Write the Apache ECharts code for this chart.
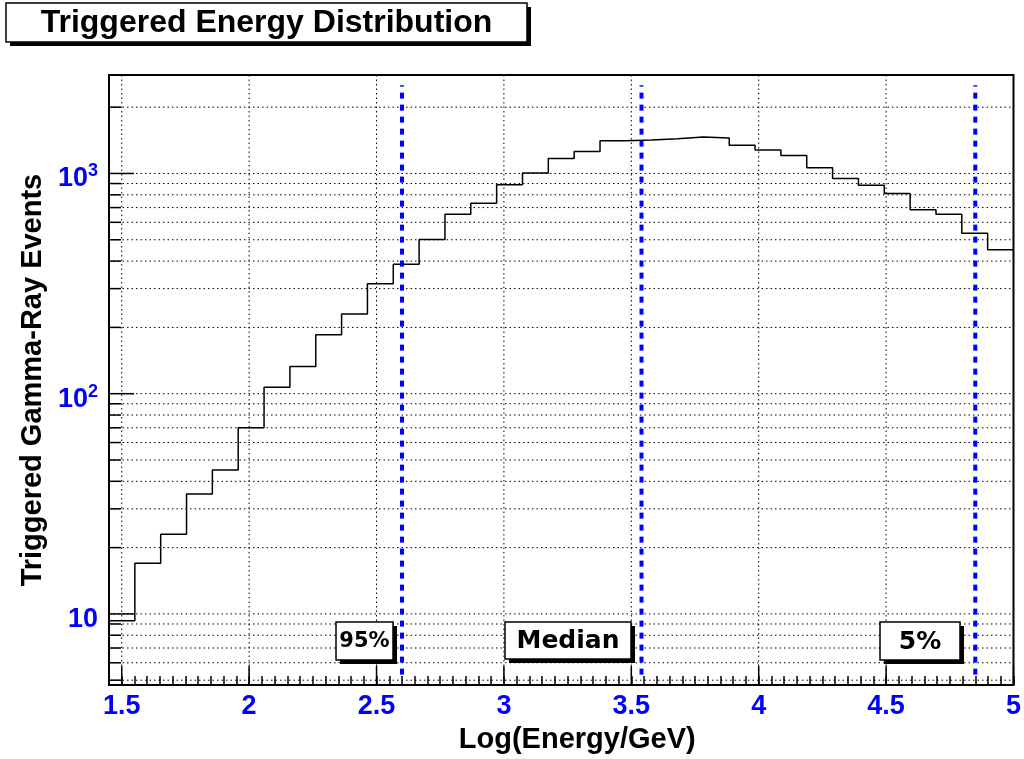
<!DOCTYPE html>
<html>
<head>
<meta charset="utf-8">
<script src="https://cdn.jsdelivr.net/npm/echarts@6/dist/echarts.min.js"></script>
<style>
  html, body { margin: 0; padding: 0; background: #fff; }
  #chart { width: 1024px; height: 759px; }
</style>
</head>
<body>
<div id="chart"></div>
<script>
// ---- data ----
const binLow = 1.45;          // left edge of first bin, log10(E/GeV)
const binHigh = 5.0;          // right edge of last bin
const counts = [9.3, 17, 23, 35, 45, 70, 107, 133, 185, 230, 316, 387, 502, 653, 732, 888, 1004,
  1170, 1257, 1407, 1418, 1437, 1466, 1450, 1343, 1277, 1208, 1062, 948, 883, 811, 684, 653, 535, 450];
const markerNames = ['95%', 'Median', '5%'];
const markerX = [2.60, 3.54, 4.85];
const markerYRange = [5.3, 2516];
const xMajorTicks = [1.5, 2, 2.5, 3, 3.5, 4, 4.5, 5];
const yTickValues = [5, 6, 7, 8, 9, 10, 20, 30, 40, 50, 60, 70, 80, 90, 100, 200, 300, 400, 500,
  600, 700, 800, 900, 1000, 2000];
const yMajorTicks = [10, 100, 1000];
const xRange = [1.45, 5.0];
const yRange = [4.75, 2800];
const titleText = 'Triggered Energy Distribution';
const xTitle = 'Log(Energy/GeV)';
const yTitle = 'Triggered Gamma-Ray Events';

// ---- build histogram step data ----
const binW = (binHigh - binLow) / counts.length;
const histData = counts.map((c, i) => [binLow + i * binW, c]);
histData.push([binHigh, counts[counts.length - 1]]);

const BLUE = '#0000ff';

function yLabel(v) {
  const e = Math.log10(v);
  const r = Math.round(e);
  if (Math.abs(e - r) > 1e-6 || r < 1) return '';
  if (r === 1) return '{b|10}';
  return '{b|10}{s|' + r + '}';
}

const markerSeries = markerX.map((x, i) => ({
  name: markerNames[i] + ' line',
  type: 'line',
  data: [[x, markerYRange[0]], [x, markerYRange[1]]],
  symbol: 'none',
  silent: true,
  z: 4,
  lineStyle: { color: BLUE, width: 4, type: [6, 6], cap: 'butt' }
}));

function boxGraphic(x, y, w, h, text, fontSize, family) {
  return {
    type: 'group',
    children: [
      { type: 'rect', shape: { x: x + 4, y: y + 4, width: w, height: h }, style: { fill: '#000' }, z: 50 },
      { type: 'rect', shape: { x: x, y: y, width: w, height: h }, style: { fill: '#fff', stroke: '#000', lineWidth: 1.5 }, z: 51 },
      { type: 'text', z: 52, style: { text: text, x: x + w / 2, y: y + h / 2 + 1, align: 'center', verticalAlign: 'middle',
          fontSize: fontSize, fontWeight: 'bold', fontFamily: family, fill: '#000' } }
    ]
  };
}

const chart = echarts.init(document.getElementById('chart'), null, { renderer: 'canvas' });
chart.setOption({
  animation: false,
  backgroundColor: '#fff',
  grid: { left: 109, top: 75, right: 8, bottom: 69, show: true, borderColor: '#000', borderWidth: 2, backgroundColor: 'transparent' },
  xAxis: {
    type: 'value', min: xRange[0], max: xRange[1], interval: 0.05,
    name: xTitle, nameLocation: 'middle', nameGap: 34,
    nameTextStyle: { fontSize: 29, fontWeight: 'bold', fontFamily: 'Liberation Sans', color: '#000', padding: [0, 0, 0, 32] },
    axisLine: { show: false },
    splitLine: { show: false },
    axisTick: { show: true, inside: true, length: 9, lineStyle: { color: '#000', width: 1.5 } },
    axisLabel: {
      margin: 8, fontSize: 27, fontWeight: 'bold', fontFamily: 'Liberation Sans', color: BLUE,
      showMinLabel: true, showMaxLabel: true,
      formatter: function (v) {
        return Math.abs(v * 2 - Math.round(v * 2)) < 1e-6 ? String(+v.toFixed(1)) : '';
      }
    }
  },
  yAxis: {
    type: 'log', logBase: 10, min: yRange[0], max: yRange[1],
    name: yTitle, nameLocation: 'middle', nameGap: 56,
    nameTextStyle: { fontSize: 29, fontWeight: 'bold', fontFamily: 'Liberation Sans', color: '#000' },
    axisLine: { show: false },
    axisTick: { show: false },
    splitLine: { show: false },
    axisLabel: {
      margin: 11,
      padding: [8, 0, 0, 0],
      formatter: yLabel,
      rich: {
        b: { fontSize: 27, fontWeight: 'bold', fontFamily: 'Liberation Sans', color: BLUE, lineHeight: 30, verticalAlign: 'bottom' },
        s: { fontSize: 18, fontWeight: 'bold', fontFamily: 'Liberation Sans', color: BLUE, lineHeight: 30, verticalAlign: 'top', padding: [0, 0, 6, 0] }
      }
    }
  },
  series: [
    {
      name: 'yGrid', type: 'custom', silent: true, z: 1,
      data: yTickValues.map(v => [xRange[0], v]),
      renderItem: function (params, api) {
        const cs = params.coordSys;
        const v = api.value(1);
        const y = api.coord([xRange[0], v])[1];
        const major = yMajorTicks.indexOf(v) >= 0;
        return {
          type: 'group', children: [
            { type: 'line', shape: { x1: cs.x, y1: y, x2: cs.x + cs.width, y2: y }, style: { stroke: '#000', lineWidth: 1, lineDash: [1.5, 3] } },
            { type: 'line', shape: { x1: cs.x, y1: y, x2: cs.x + (major ? 25 : 12), y2: y }, style: { stroke: '#000', lineWidth: 1.5 } }
          ]
        };
      }
    },
    {
      name: 'xGrid', type: 'custom', silent: true, z: 1,
      data: xMajorTicks.map(v => [v, yRange[0]]),
      renderItem: function (params, api) {
        const cs = params.coordSys;
        const v = api.value(0);
        const x = api.coord([v, yRange[0]])[0];
        const bottom = cs.y + cs.height;
        const ch = [{ type: 'line', shape: { x1: x, y1: bottom, x2: x, y2: bottom - 19 }, style: { stroke: '#000', lineWidth: 1.5 } }];
        if (v < xRange[1]) {
          ch.unshift({ type: 'line', shape: { x1: x, y1: cs.y, x2: x, y2: bottom }, style: { stroke: '#000', lineWidth: 1, lineDash: [1.5, 3] } });
        }
        return { type: 'group', children: ch };
      }
    },
    {
      name: 'Triggered events', type: 'line', step: 'end', data: histData, symbol: 'none', z: 3,
      lineStyle: { color: '#000', width: 1.5 }, silent: true
    }
  ].concat(markerSeries),
  graphic: [
    boxGraphic(6, 3, 521, 39, titleText, 32, 'Liberation Sans'),
    boxGraphic(336, 622, 57, 38, markerNames[0], 21, 'DejaVu Sans'),
    boxGraphic(505, 622, 126, 37, markerNames[1], 25, 'DejaVu Sans'),
    boxGraphic(880, 622, 80, 38, markerNames[2], 25, 'DejaVu Sans')
  ]
});
</script>
</body>
</html>
